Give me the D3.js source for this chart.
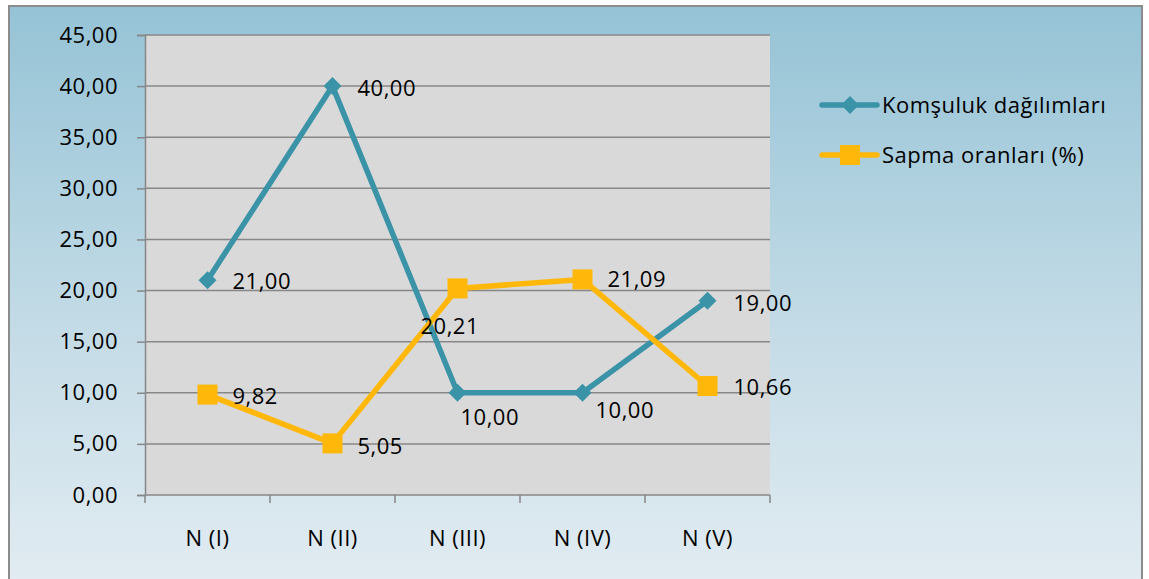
<!DOCTYPE html>
<html>
<head>
<meta charset="utf-8">
<script src="https://cdn.jsdelivr.net/npm/d3@7"></script>
<style>
  html, body { margin: 0; padding: 0; background: #ffffff; }
  svg { display: block; }
  text { font-family: "Open Sans", "Noto Sans", sans-serif; fill: #000; letter-spacing: 0.5px; }
</style>
</head>
<body>
<svg id="chart" width="1149" height="579"></svg>
<script>
// Categories and series
const categories = ["N (I)", "N (II)", "N (III)", "N (IV)", "N (V)"];
const komsulukValues = [21.00, 40.00, 10.00, 10.00, 19.00];
const sapmaValues = [9.82, 5.05, 20.21, 21.09, 10.66];
const seriesNames = ["Komşuluk dağılımları", "Sapma oranları (%)"];
const yTicks = [0, 5, 10, 15, 20, 25, 30, 35, 40, 45];

// Label placement offsets (dx, dy) per point
const komsulukLabelOffsets = [[25, 1], [25, 2], [3, 25], [13, 18], [26, 3]];
const sapmaLabelOffsets = [[25, 2], [25, 3], [-37, 38], [25, 0], [26, 1]];

const FS = 22;
const fmt = v => d3.format(".2f")(v).replace(".", ",");

const svg = d3.select("#chart");
const W = 1149, H = 579;
const margin = { left: 145, right: 379, top: 35, bottom: 84 };
const plotW = W - margin.left - margin.right;
const plotH = H - margin.top - margin.bottom;

// Background gradient
const defs = svg.append("defs");
const grad = defs.append("linearGradient").attr("id", "bg").attr("x1", 0).attr("y1", 0).attr("x2", 0).attr("y2", 1);
grad.append("stop").attr("offset", "0%").attr("stop-color", "#95c3d6");
grad.append("stop").attr("offset", "55%").attr("stop-color", "#c3dbe6");
grad.append("stop").attr("offset", "100%").attr("stop-color", "#e2ecf2");

svg.append("rect").attr("x", 0).attr("y", 0).attr("width", W).attr("height", H).attr("fill", "#ffffff");
svg.append("rect").attr("x", 9).attr("y", 6).attr("width", 1133).attr("height", 580)
  .attr("fill", "url(#bg)").attr("stroke", "#8c8c8c").attr("stroke-width", 2);

const x = d3.scaleBand().domain(categories).range([0, plotW]);
const y = d3.scaleLinear().domain([0, 45]).range([plotH, 0]);

const g = svg.append("g").attr("transform", `translate(${margin.left},${margin.top})`);

// Plot area
g.append("rect").attr("width", plotW).attr("height", plotH).attr("fill", "#d9d9d9");

// Gridlines
g.append("g").selectAll("line").data(yTicks.filter(t => t > 0)).join("line")
  .attr("x1", 0).attr("x2", plotW)
  .attr("y1", d => y(d)).attr("y2", d => y(d))
  .attr("stroke", "#878787").attr("stroke-width", 1.5);

// Y axis
const yAxis = d3.axisLeft(y).tickValues(yTicks).tickSize(8).tickPadding(19).tickFormat(fmt);
const yg = g.append("g").call(yAxis);
yg.select(".domain").attr("stroke", "#878787").attr("stroke-width", 1.5);
yg.selectAll(".tick line").attr("stroke", "#878787").attr("stroke-width", 1.5);
yg.selectAll(".tick text").attr("font-size", FS).attr("font-family", "Open Sans").attr("fill", "#000");

// X axis with ticks at category boundaries
const xg = g.append("g").attr("transform", `translate(0,${plotH})`);
xg.append("line").attr("x1", 0).attr("x2", plotW).attr("stroke", "#878787").attr("stroke-width", 1.5);
const boundaries = d3.range(categories.length + 1).map(i => i * x.step());
xg.selectAll("line.tk").data(boundaries).join("line").attr("class", "tk")
  .attr("x1", d => d).attr("x2", d => d).attr("y1", 0).attr("y2", 8)
  .attr("stroke", "#878787").attr("stroke-width", 1.5);
xg.selectAll("text").data(categories).join("text")
  .attr("x", d => x(d) + x.bandwidth() / 2).attr("y", 51)
  .attr("text-anchor", "middle").attr("font-size", FS).text(d => d);

const cx = d => x(d) + x.bandwidth() / 2;
const line = d3.line().x(d => cx(d.c)).y(d => y(d.v));

const series = [
  { name: seriesNames[0], values: komsulukValues, color: "#3b93a8", shape: "diamond", offs: komsulukLabelOffsets },
  { name: seriesNames[1], values: sapmaValues, color: "#ffb80a", shape: "square", offs: sapmaLabelOffsets }
];

function marker(sel, shape, color) {
  if (shape === "diamond") {
    sel.append("path").attr("d", "M0,-9L9,0L0,9L-9,0Z").attr("fill", color);
  } else {
    sel.append("rect").attr("x", -10).attr("y", -10).attr("width", 20).attr("height", 20).attr("fill", color);
  }
}

series.forEach(s => {
  const pts = s.values.map((v, i) => ({ c: categories[i], v, i }));
  g.append("path").datum(pts).attr("d", line).attr("fill", "none")
    .attr("stroke", s.color).attr("stroke-width", 5.5).attr("stroke-linejoin", "round");
  pts.forEach(p => {
    const m = g.append("g").attr("transform", `translate(${cx(p.c)},${y(p.v)})`);
    marker(m, s.shape, s.color);
  });
});

series.forEach(s => {
  s.values.forEach((v, i) => {
    g.append("text")
      .attr("x", cx(categories[i]) + s.offs[i][0])
      .attr("y", y(v) + s.offs[i][1])
      .attr("dy", "0.35em")
      .attr("font-size", FS)
      .text(fmt(v));
  });
});

// Legend
const legend = svg.append("g").attr("transform", "translate(822,105)");
series.forEach((s, i) => {
  const lg = legend.append("g").attr("transform", `translate(0,${i * 50})`);
  lg.append("line").attr("x1", 0).attr("x2", 55).attr("stroke", s.color).attr("stroke-width", 5.5).attr("stroke-linecap", "round");
  const m = lg.append("g").attr("transform", "translate(28,0)");
  marker(m, s.shape, s.color);
  lg.append("text").attr("x", 60).attr("y", 0).attr("dy", "0.35em").attr("font-size", FS).text(s.name);
});
</script>
</body>
</html>
